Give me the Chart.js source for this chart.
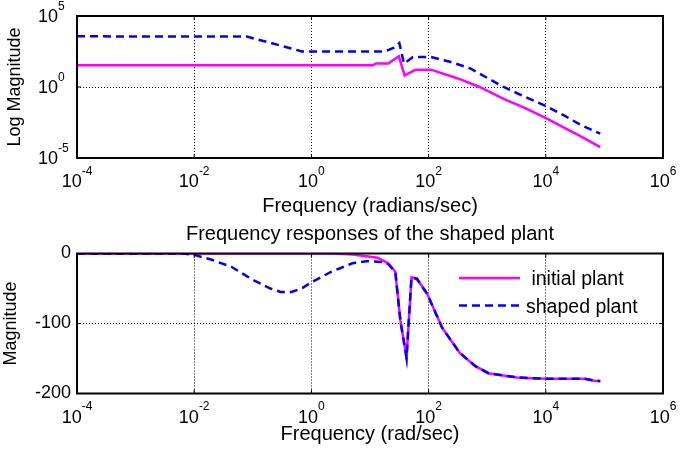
<!DOCTYPE html>
<html>
<head>
<meta charset="utf-8">
<script src="https://cdn.jsdelivr.net/npm/chart.js@4.4.0/dist/chart.umd.min.js"></script>
<style>
body { margin: 0; background: #fff; }
#wrap { position: relative; width: 684px; height: 453px; }
canvas { position: absolute; left: 0; top: 0; }
</style>
</head>
<body>
<div id="wrap">
<canvas id="magChart" width="684" height="453"></canvas>
<canvas id="dbChart" width="684" height="453"></canvas>
</div>
<script>
// tick values (decades shown on the axes)
const freqTicks = [1e-4, 1e-2, 1, 1e2, 1e4, 1e6];
const logMagTicks = [1e-5, 1, 1e5];

// upper plot: log magnitude
const freqInitialTop = [1e-4, 11.2, 12.6, 20.4, 31, 39, 60, 110, 316, 740, 1950, 4470, 10500, 20400, 38900, 85000];
const initialTop = [34, 34, 45, 45, 145, 6.6, 16.6, 16.6, 4, 1, 0.14, 0.032, 0.006, 0.0014, 0.00035, 0.000059];
const freqShapedTop = [1e-4, 0.079, 0.25, 0.69, 17.8, 25, 31.6, 38, 54, 110, 240, 525, 1900, 4470, 10500, 20400, 38900, 85000];
const shapedTop = [3700, 3550, 1000, 320, 320, 560, 1260, 45, 129, 129, 58, 19.5, 1, 0.2, 0.042, 0.01, 0.0022, 0.00052];

// lower plot: magnitude
const freqInitialBottom = [1e-4, 2.5, 5, 8.7, 13.5, 20.4, 27, 33, 42, 51, 63, 95, 170, 340, 630, 1050, 3200, 9800, 46000, 71000, 85000];
const initialBottom = [0, 0, -1.5, -4, -6, -14, -26, -96, -149, -34, -36, -58, -106, -142, -161, -171, -177, -179, -179, -182, -182];
const freqShapedBottom = [1e-4, 0.0063, 0.01, 0.02, 0.043, 0.1, 0.2, 0.3, 0.46, 0.71, 1, 2.2, 5, 8.7, 15.5, 20.4, 27, 33, 42, 51, 63, 95, 170, 340, 630, 1050, 3200, 9800, 46000, 71000, 85000];
const shapedBottom = [0, 0, -2, -9, -19, -37.5, -50, -55, -55, -49, -41, -26, -14, -11, -12, -15, -26, -96, -149, -34, -36, -58, -106, -142, -161, -171, -177, -179, -179, -182, -182];

const FONT = '"Liberation Sans", Arial, sans-serif';
Chart.defaults.font.family = FONT;
Chart.defaults.color = '#000';

function pairs(xs, ys) {
  return xs.map((x, i) => ({ x: x, y: ys[i] }));
}

// box around the plot + small inward ticks
const frame = {
  id: 'frame',
  afterDraw(chart) {
    const ctx = chart.ctx, a = chart.chartArea;
    ctx.save();
    ctx.strokeStyle = '#000';
    ctx.lineWidth = 1;
    const sx = chart.scales.x, sy = chart.scales.y;
    ctx.beginPath();
    sx.ticks.forEach(t => {
      const p = sx.getPixelForValue(t.value);
      ctx.moveTo(p, a.bottom); ctx.lineTo(p, a.bottom - 4);
      ctx.moveTo(p, a.top); ctx.lineTo(p, a.top + 4);
    });
    sy.ticks.forEach(t => {
      const p = sy.getPixelForValue(t.value);
      ctx.moveTo(a.left, p); ctx.lineTo(a.left + 4, p);
      ctx.moveTo(a.right, p); ctx.lineTo(a.right - 4, p);
    });
    ctx.stroke();
    ctx.lineWidth = 2;
    ctx.strokeRect(a.left, a.top, a.width, a.height);
    ctx.restore();
  }
};

// "10" with a raised exponent for log axes
const powerLabels = {
  id: 'powerLabels',
  afterDraw(chart) {
    const ctx = chart.ctx, a = chart.chartArea;
    ctx.save();
    ctx.fillStyle = '#000';
    ctx.textBaseline = 'middle';
    ctx.textAlign = 'left';
    ['x', 'y'].forEach(id => {
      const s = chart.scales[id];
      if (s.type !== 'logarithmic') return;
      s.ticks.forEach(t => {
        const p = s.getPixelForValue(t.value);
        const e = String(Math.round(Math.log10(t.value)));
        ctx.font = '18px ' + FONT;
        const wb = ctx.measureText('10').width;
        ctx.font = '12px ' + FONT;
        const we = ctx.measureText(e).width;
        let bx, by, ey;
        if (id === 'x') {
          bx = p - (wb + we) / 2; by = a.bottom + 24.5; ey = a.bottom + 13.5;
        } else {
          bx = a.left - 19 - wb; by = p + 1.5; ey = p - 9;
        }
        ctx.font = '18px ' + FONT;
        ctx.fillText('10', bx, by);
        ctx.font = '12px ' + FONT;
        ctx.fillText(e, bx + wb, ey);
      });
    });
    ctx.restore();
  }
};

// legend inside the lower plot, no box
const lineKey = {
  id: 'lineKey',
  afterDatasetsDraw(chart) {
    const ctx = chart.ctx, a = chart.chartArea;
    chart.data.datasets.forEach((ds, i) => {
      const y = a.top + 24.5 + i * 27.5;
      ctx.save();
      ctx.strokeStyle = ds.borderColor;
      ctx.lineWidth = ds.borderWidth;
      ctx.setLineDash(ds.borderDash || []);
      ctx.beginPath();
      ctx.moveTo(a.right - 204, y);
      ctx.lineTo(a.right - 143, y);
      ctx.stroke();
      ctx.fillStyle = '#000';
      ctx.font = '19.5px ' + FONT;
      ctx.textBaseline = 'middle';
      ctx.fillText(ds.label, a.right - 137, y + 2);
      ctx.restore();
    });
  }
};

function xAxis(title, height) {
  return {
    type: 'logarithmic', min: 1e-4, max: 1e6,
    afterBuildTicks: s => { s.ticks = freqTicks.map(v => ({ value: v })); },
    afterFit: s => { s.height = height; },
    ticks: { display: false },
    grid: { color: '#000', lineWidth: 1, drawTicks: false },
    border: { display: false, dash: [1, 2] },
    title: { display: true, text: title, font: { size: 20 }, padding: 0 }
  };
}

var magChart = new Chart(document.getElementById('magChart'), {
  type: 'line',
  data: {
    datasets: [{
      label: 'initial plant',
      data: pairs(freqInitialTop, initialTop),
      borderColor: '#ff00ff', borderWidth: 2.5, pointRadius: 0, tension: 0, order: 1
    }, {
      label: 'shaped plant',
      data: pairs(freqShapedTop, shapedTop),
      borderColor: '#0000ff', borderWidth: 2.5, borderDash: [8, 5], pointRadius: 0, tension: 0, order: 0
    }]
  },
  options: {
    responsive: false, animation: false, events: [],
    layout: { padding: { top: 16, right: 21, bottom: 235, left: 0 } },
    plugins: { legend: { display: false }, tooltip: { enabled: false } },
    scales: {
      x: xAxis('Frequency (radians/sec)', 60),
      y: {
        type: 'logarithmic', min: 1e-5, max: 1e5,
        afterBuildTicks: s => { s.ticks = logMagTicks.map(v => ({ value: v })); },
        afterFit: s => { s.width = 77; },
        ticks: { display: false },
        grid: { color: '#000', lineWidth: 1, drawTicks: false },
        border: { display: false, dash: [1, 2] },
        title: { display: true, text: 'Log Magnitude', font: { size: 18 }, padding: { top: 4, bottom: 0 } }
      }
    }
  },
  plugins: [frame, powerLabels]
});

var dbChart = new Chart(document.getElementById('dbChart'), {
  type: 'line',
  data: {
    datasets: [{
      label: ' initial plant',
      data: pairs(freqInitialBottom, initialBottom),
      borderColor: '#ff00ff', borderWidth: 2.5, pointRadius: 0, tension: 0, order: 1
    }, {
      label: 'shaped plant',
      data: pairs(freqShapedBottom, shapedBottom),
      borderColor: '#0000ff', borderWidth: 2.5, borderDash: [8, 5], pointRadius: 0, tension: 0, order: 0
    }]
  },
  options: {
    responsive: false, animation: false, events: [],
    layout: { padding: { top: 222, right: 21, bottom: 6.5, left: 0 } },
    plugins: { legend: { display: false }, tooltip: { enabled: false } },
    scales: {
      x: xAxis('Frequency (rad/sec)', 53),
      // top axis only carries the plot title, centred over the plot area
      top: {
        type: 'logarithmic', position: 'top', min: 1e-4, max: 1e6,
        afterFit: s => { s.height = 31.5; },
        ticks: { display: false },
        grid: { display: false },
        border: { display: false },
        title: { display: true, text: 'Frequency responses of the shaped plant', font: { size: 20 }, padding: { top: 0.5, bottom: 0 } }
      },
      y: {
        min: -200, max: 0,
        afterBuildTicks: s => { s.ticks = [-200, -100, 0].map(v => ({ value: v })); },
        afterFit: s => { s.width = 77; },
        ticks: { font: { size: 18 }, padding: 6 },
        grid: { color: '#000', lineWidth: 1, drawTicks: false },
        border: { display: false, dash: [1, 2] },
        title: { display: true, text: 'Magnitude', font: { size: 18 }, padding: { top: 0, bottom: 0 } }
      }
    }
  },
  plugins: [frame, powerLabels, lineKey]
});
</script>
</body>
</html>
